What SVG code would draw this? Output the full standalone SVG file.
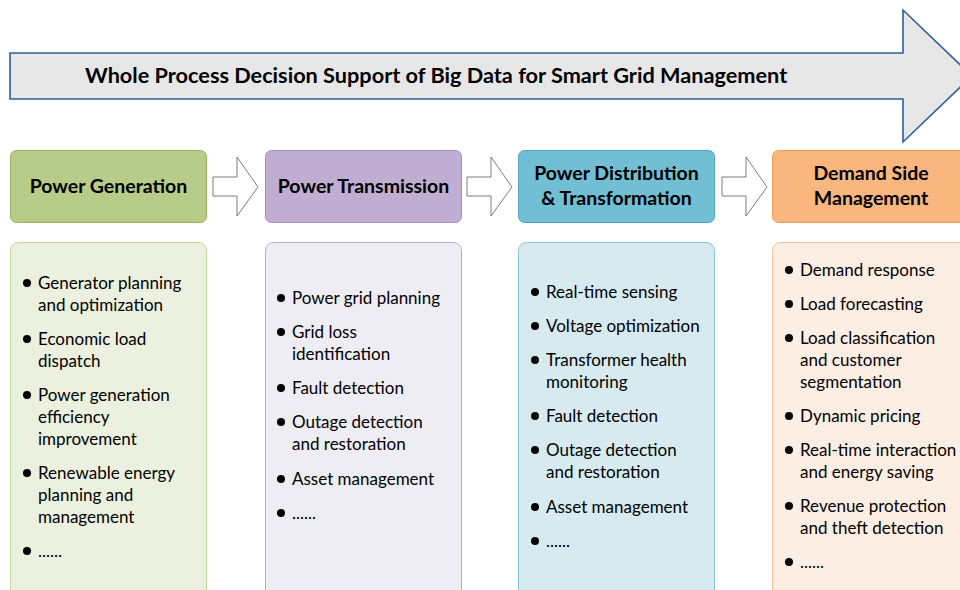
<svg xmlns="http://www.w3.org/2000/svg" width="960" height="590" viewBox="0 0 960 590">
  <style>
    text { font-family: Lato, "Open Sans", "Liberation Sans", sans-serif; fill: #000; }
    .title { font-size: 21.7px; font-weight: bold; }
    .head { font-size: 19.5px; font-weight: bold; text-anchor: middle; }
    .item { font-size: 17px; }
    .step { fill: #ffffff; stroke: #5a5a5a; stroke-width: 0.8; }
    .dot { fill: #000; }
  </style>

  <!-- overall process arrow -->
  <g id="process-arrow">
    <path d="M10,53 H903 V10 L972,76 L903,142 V99 H10 Z" fill="#e7e7e7" stroke="#2f5d9e" stroke-width="1.6"/>
    <text class="title" x="85" y="83">Whole Process Decision Support of Big Data for Smart Grid Management</text>
  </g>

  <!-- stage headers -->
  <g id="stage-generation">
    <rect x="10.5" y="150.5" width="196" height="72" rx="6" fill="#b6cc88" stroke="#98b45e"/>
    <text class="head" x="108.5" y="193">Power Generation</text>
  </g>
  <g id="stage-transmission">
    <rect x="265.5" y="150.5" width="196" height="72" rx="6" fill="#bfaed2" stroke="#a491bd"/>
    <text class="head" x="363.5" y="193">Power Transmission</text>
  </g>
  <g id="stage-distribution">
    <rect x="518.5" y="150.5" width="196" height="72" rx="6" fill="#72bfd3" stroke="#4fa5bd"/>
    <text class="head" x="616.5" y="180">Power Distribution</text>
    <text class="head" x="616.5" y="205">&amp; Transformation</text>
  </g>
  <g id="stage-demand">
    <rect x="772.5" y="150.5" width="200" height="72" rx="6" fill="#f9b67f" stroke="#ef9c58"/>
    <text class="head" x="871" y="180">Demand Side</text>
    <text class="head" x="871" y="205">Management</text>
  </g>

  <!-- connectors between stages -->
  <g id="connectors">
    <path class="step" d="M213,177 H237 V157 L258,187 L237,216 V196 H213 Z"/>
    <path class="step" d="M467,177 H491 V157 L512,187 L491,216 V196 H467 Z"/>
    <path class="step" d="M722,177 H746 V157 L767,187 L746,216 V196 H722 Z"/>
  </g>

  <!-- task lists -->
  <g id="tasks-generation">
    <rect x="10.5" y="242.5" width="196" height="360" rx="8" fill="#ebf1de" stroke="#c4d79c"/>
    <circle class="dot" cx="27" cy="283" r="4"/>
    <text class="item" x="38" y="289">Generator planning</text>
    <text class="item" x="38" y="311">and optimization</text>
    <circle class="dot" cx="27" cy="339" r="4"/>
    <text class="item" x="38" y="345">Economic load</text>
    <text class="item" x="38" y="367">dispatch</text>
    <circle class="dot" cx="27" cy="395" r="4"/>
    <text class="item" x="38" y="401">Power generation</text>
    <text class="item" x="38" y="423">efficiency</text>
    <text class="item" x="38" y="445">improvement</text>
    <circle class="dot" cx="27" cy="473" r="4"/>
    <text class="item" x="38" y="479">Renewable energy</text>
    <text class="item" x="38" y="501">planning and</text>
    <text class="item" x="38" y="523">management</text>
    <circle class="dot" cx="27" cy="551" r="4"/>
    <text class="item" x="38" y="557">......</text>
  </g>

  <g id="tasks-transmission">
    <rect x="265.5" y="242.5" width="196" height="360" rx="8" fill="#efedf4" stroke="#b9aacb"/>
    <circle class="dot" cx="281" cy="298" r="4"/>
    <text class="item" x="292" y="304">Power grid planning</text>
    <circle class="dot" cx="281" cy="332" r="4"/>
    <text class="item" x="292" y="338">Grid loss</text>
    <text class="item" x="292" y="360">identification</text>
    <circle class="dot" cx="281" cy="388" r="4"/>
    <text class="item" x="292" y="394">Fault detection</text>
    <circle class="dot" cx="281" cy="422" r="4"/>
    <text class="item" x="292" y="428">Outage detection</text>
    <text class="item" x="292" y="450">and restoration</text>
    <circle class="dot" cx="281" cy="479" r="4"/>
    <text class="item" x="292" y="485">Asset management</text>
    <circle class="dot" cx="281" cy="513" r="4"/>
    <text class="item" x="292" y="519">......</text>
  </g>

  <g id="tasks-distribution">
    <rect x="518.5" y="242.5" width="196" height="360" rx="8" fill="#d6eaf0" stroke="#8ec6d6"/>
    <circle class="dot" cx="535" cy="292" r="4"/>
    <text class="item" x="546" y="298">Real-time sensing</text>
    <circle class="dot" cx="535" cy="326" r="4"/>
    <text class="item" x="546" y="332">Voltage optimization</text>
    <circle class="dot" cx="535" cy="360" r="4"/>
    <text class="item" x="546" y="366">Transformer health</text>
    <text class="item" x="546" y="388">monitoring</text>
    <circle class="dot" cx="535" cy="416" r="4"/>
    <text class="item" x="546" y="422">Fault detection</text>
    <circle class="dot" cx="535" cy="450" r="4"/>
    <text class="item" x="546" y="456">Outage detection</text>
    <text class="item" x="546" y="478">and restoration</text>
    <circle class="dot" cx="535" cy="507" r="4"/>
    <text class="item" x="546" y="513">Asset management</text>
    <circle class="dot" cx="535" cy="541" r="4"/>
    <text class="item" x="546" y="547">......</text>
  </g>

  <g id="tasks-demand">
    <rect x="772.5" y="242.5" width="200" height="360" rx="8" fill="#fdeee3" stroke="#f8c59c"/>
    <circle class="dot" cx="789" cy="270" r="4"/>
    <text class="item" x="800" y="276">Demand response</text>
    <circle class="dot" cx="789" cy="304" r="4"/>
    <text class="item" x="800" y="310">Load forecasting</text>
    <circle class="dot" cx="789" cy="338" r="4"/>
    <text class="item" x="800" y="344">Load classification</text>
    <text class="item" x="800" y="366">and customer</text>
    <text class="item" x="800" y="388">segmentation</text>
    <circle class="dot" cx="789" cy="416" r="4"/>
    <text class="item" x="800" y="422">Dynamic pricing</text>
    <circle class="dot" cx="789" cy="450" r="4"/>
    <text class="item" x="800" y="456">Real-time interaction</text>
    <text class="item" x="800" y="478">and energy saving</text>
    <circle class="dot" cx="789" cy="506" r="4"/>
    <text class="item" x="800" y="512">Revenue protection</text>
    <text class="item" x="800" y="534">and theft detection</text>
    <circle class="dot" cx="789" cy="562" r="4"/>
    <text class="item" x="800" y="568">......</text>
  </g>
</svg>
